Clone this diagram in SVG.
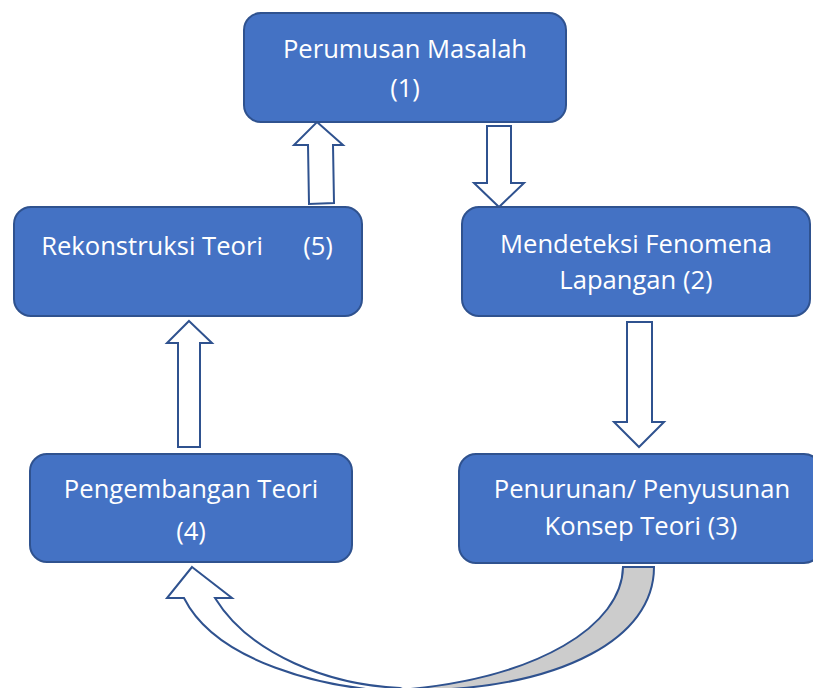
<svg xmlns="http://www.w3.org/2000/svg" width="813" height="688" viewBox="0 0 813 688">
<style>
.box{fill:#4472C4;stroke:#2F528F;stroke-width:2}
.lbl{font-family:"Open Sans","Noto Sans",sans-serif;font-size:25.6px;fill:#FFFFFF;text-anchor:middle}
.arr{fill:#FFFFFF;stroke:#2F528F;stroke-width:2;stroke-linejoin:miter}
.back{fill:#CCCCCC;stroke:#2F528F;stroke-width:2}
</style>
<rect width="813" height="688" fill="#FFFFFF"/>
<g id="connectors">
<polygon class="arr" points="317,122 343,145 333,145 334,203 309,204 308,145 294,145"/>
<polygon class="arr" points="487,126 511,126 511,183 524,183 499,207 474,183 487,183"/>
<polygon class="arr" points="189,321 212,343 200,343 200,447 178,447 178,343 167,343"/>
<polygon class="arr" points="627,322 652,322 652,422 664,422 639,447 614,422 627,422"/>
<path class="back" d="M623,567 L654,567 C654,640 560,685 433,690 L400,690 C540,678 622,625 623,567 Z"/>
<path class="arr" d="M192,567 L232,598 L215,598 C250,655 330,685 400,688 L410,692 C320,690 215,660 184,598 L167,598 Z"/>
</g>
<g id="node1">
<rect class="box" x="244" y="13" width="322" height="109" rx="17"/>
<text class="lbl" x="405" y="58">Perumusan Masalah</text>
<text class="lbl" x="405" y="97">(1)</text>
</g>
<g id="node2">
<rect class="box" x="462" y="207" width="348" height="109" rx="17"/>
<text class="lbl" x="636" y="253">Mendeteksi Fenomena</text>
<text class="lbl" x="636" y="289">Lapangan (2)</text>
</g>
<g id="node3">
<rect class="box" x="459" y="454" width="362" height="109" rx="17"/>
<text class="lbl" x="642" y="498">Penurunan/ Penyusunan</text>
<text class="lbl" x="641" y="535">Konsep Teori (3)</text>
</g>
<g id="node4">
<rect class="box" x="30" y="454" width="322" height="108" rx="17"/>
<text class="lbl" x="191" y="498">Pengembangan Teori</text>
<text class="lbl" x="191" y="540">(4)</text>
</g>
<g id="node5">
<rect class="box" x="14" y="207" width="348" height="109" rx="17"/>
<text class="lbl" x="152" y="255">Rekonstruksi Teori</text>
<text class="lbl" x="318" y="255">(5)</text>
</g>
</svg>
